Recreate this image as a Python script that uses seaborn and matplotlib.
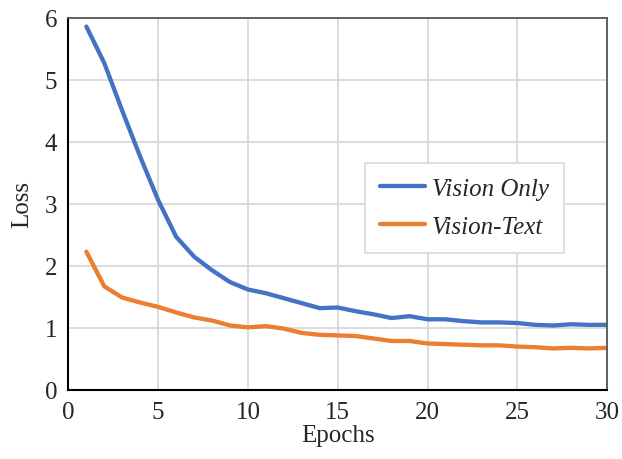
import numpy as np
import pandas as pd
import matplotlib
matplotlib.use("Agg")
import matplotlib.pyplot as plt
import seaborn as sns

epochs = list(range(1, 31))
vision_only = [5.86, 5.27, 4.50, 3.76, 3.06, 2.47, 2.15, 1.93, 1.74, 1.62,
               1.56, 1.48, 1.40, 1.32, 1.33, 1.27, 1.22, 1.16, 1.19, 1.14,
               1.14, 1.11, 1.09, 1.09, 1.08, 1.05, 1.04, 1.06, 1.05, 1.05]
vision_text = [2.23, 1.67, 1.49, 1.41, 1.34, 1.25, 1.17, 1.12, 1.04, 1.01,
               1.03, 0.99, 0.92, 0.89, 0.88, 0.87, 0.83, 0.79, 0.79, 0.75,
               0.74, 0.73, 0.72, 0.72, 0.70, 0.69, 0.67, 0.68, 0.67, 0.68]
series_names = ["Vision Only", "Vision-Text"]
palette = ["#4472C4", "#ED7D31"]

df = pd.DataFrame({
    "Epochs": epochs * 2,
    "Loss": vision_only + vision_text,
    "Model": [series_names[0]] * len(epochs) + [series_names[1]] * len(epochs),
})

sns.set_style("white")
plt.rcParams["font.family"] = ["Liberation Serif", "DejaVu Serif"]

fig = plt.figure(figsize=(6.22, 4.60), dpi=100)
ax = fig.add_axes([0.110, 0.150, 0.866, 0.809])

sns.lineplot(data=df, x="Epochs", y="Loss", hue="Model", palette=palette,
             linewidth=3.1, ax=ax, solid_capstyle="round")

ax.set_xlim(0, 30)
ax.set_ylim(0, 6)
ax.set_xticks(range(0, 31, 5))
ax.set_yticks(range(0, 7))
ax.grid(True, color="#d9d9d9", linewidth=1.3)
ax.set_axisbelow(True)
for side in ["left", "bottom"]:
    ax.spines[side].set_color("black")
    ax.spines[side].set_linewidth(1.5)
for side in ["top", "right"]:
    ax.spines[side].set_color("#555555")
    ax.spines[side].set_linewidth(1.3)

ax.tick_params(axis="both", labelsize=18, length=0, pad=8)
ax.set_xlabel("Epochs", fontsize=18, labelpad=1)
ax.set_ylabel("Loss", fontsize=18, labelpad=8)

leg = ax.legend(loc="center", bbox_to_anchor=(0.735, 0.49), frameon=True,
                fancybox=False, edgecolor="#d9d9d9", framealpha=1,
                prop={"family": "Liberation Serif", "style": "italic", "size": 18},
                handlelength=1.8, handletextpad=0.3, borderpad=0.6,
                labelspacing=0.6)
leg.get_frame().set_linewidth(1.2)

fig.savefig("out.png", dpi=100)
